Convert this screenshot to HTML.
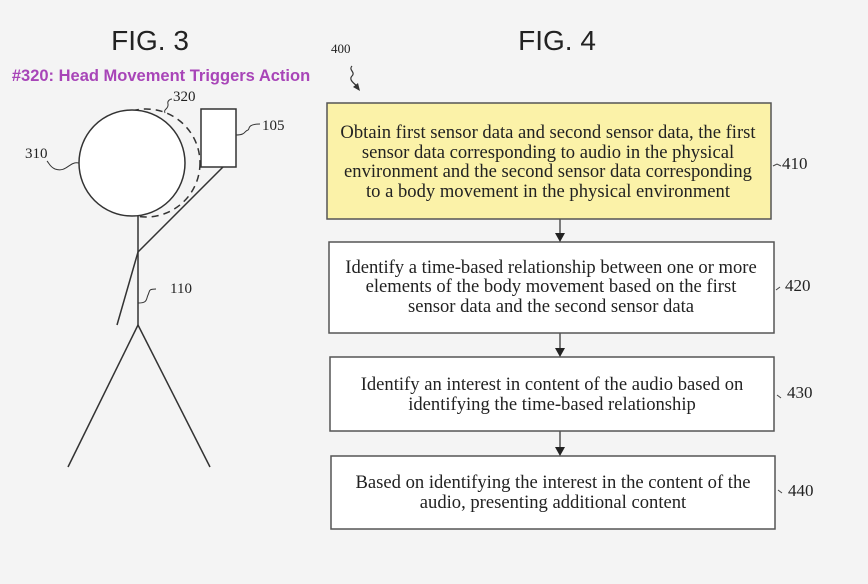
<!DOCTYPE html>
<html><head><meta charset="utf-8"><style>
html,body{margin:0;padding:0;background:#f4f4f4}
svg{display:block}
.s{font-family:"Liberation Serif",serif;fill:#222}
.t{font-size:18.6px;text-anchor:middle}
</style></head><body>
<svg width="868" height="584" viewBox="0 0 868 584" xmlns="http://www.w3.org/2000/svg">
<rect width="868" height="584" fill="#f4f4f4"/>
<text x="150" y="50" font-family="Liberation Sans,sans-serif" font-size="28" text-anchor="middle" fill="#222">FIG. 3</text>
<text x="557" y="50" font-family="Liberation Sans,sans-serif" font-size="28" text-anchor="middle" fill="#222">FIG. 4</text>
<text x="161" y="81" font-family="Liberation Sans,sans-serif" font-size="16.5" font-weight="bold" text-anchor="middle" fill="#a845b8">#320: Head Movement Triggers Action</text>
<g stroke="#333" stroke-width="1.5" fill="none">
<circle cx="146" cy="163" r="54" stroke-dasharray="7,5"/>
<circle cx="132" cy="163" r="53" fill="#fff"/>
<rect x="201" y="109" width="35" height="58" fill="#fff"/>
<line x1="138" y1="216" x2="138" y2="325"/>
<polyline points="223,167 138,252 117,325"/>
<line x1="138" y1="325" x2="68" y2="467"/>
<line x1="138" y1="325" x2="210" y2="467"/>
<path d="M79,163 c-10,-2 -12,10 -24,6 c-5,-2 -6,-6 -8,-8" stroke-width="1"/>
<path d="M165,113 c-2,-4 4,-4 3,-9 c-1,-3 2,-5 4,-5" stroke-width="1"/>
<path d="M236,135 c10,0 8,-4 12,-5 c2,0 -2,-6 12,-6" stroke-width="1"/>
<path d="M138,303 c10,0 8,-4 10,-8 c2,-4 0,-6 8,-6" stroke-width="1"/>
</g>
<text class="s" x="25" y="158" font-size="15">310</text>
<text class="s" x="173" y="101" font-size="15">320</text>
<text class="s" x="262" y="130" font-size="15">105</text>
<text class="s" x="170" y="293" font-size="15">110</text>
<text class="s" x="331" y="53" font-size="13">400</text>
<path d="M352,66 c-4,4 4,6 0,10 c-3,3 0,6 5,10" stroke="#333" fill="none" stroke-width="1.2"/>
<polygon points="360,91 353,87 358,83" fill="#333"/>
<g stroke="#555" stroke-width="1.5">
<rect x="327" y="103" width="444" height="116" fill="#fbf2a8"/>
<rect x="329" y="242" width="445" height="91" fill="#fff"/>
<rect x="330" y="357" width="444" height="74" fill="#fff"/>
<rect x="331" y="456" width="444" height="73" fill="#fff"/>
<line x1="560" y1="219" x2="560" y2="234"/>
<line x1="560" y1="333" x2="560" y2="349"/>
<line x1="560" y1="431" x2="560" y2="448"/>
</g>
<g fill="#222">
<polygon points="555,233 565,233 560,242"/>
<polygon points="555,348 565,348 560,357"/>
<polygon points="555,447 565,447 560,456"/>
</g>
<g class="s t">
<text x="548" y="138">Obtain first sensor data and second sensor data, the first</text>
<text x="548" y="158">sensor data corresponding to audio in the physical</text>
<text x="548" y="177">environment and the second sensor data corresponding</text>
<text x="548" y="197">to a body movement in the physical environment</text>
<text x="551" y="273">Identify a time-based relationship between one or more</text>
<text x="551" y="292">elements of the body movement based on the first</text>
<text x="551" y="312">sensor data and the second sensor data</text>
<text x="552" y="390">Identify an interest in content of the audio based on</text>
<text x="552" y="410">identifying the time-based relationship</text>
<text x="553" y="488">Based on identifying the interest in the content of the</text>
<text x="553" y="508">audio, presenting additional content</text>
</g>
<g stroke="#444" stroke-width="1" fill="none">
<path d="M773,166 l4,-2 l4,2"/>
<path d="M776,290 l4,-3"/>
<path d="M777,395 l4,3"/>
<path d="M778,490 l4,3"/>
</g>
<g class="s" font-size="17">
<text x="782" y="169">410</text>
<text x="785" y="291">420</text>
<text x="787" y="398">430</text>
<text x="788" y="496">440</text>
</g>
</svg>
</body></html>
